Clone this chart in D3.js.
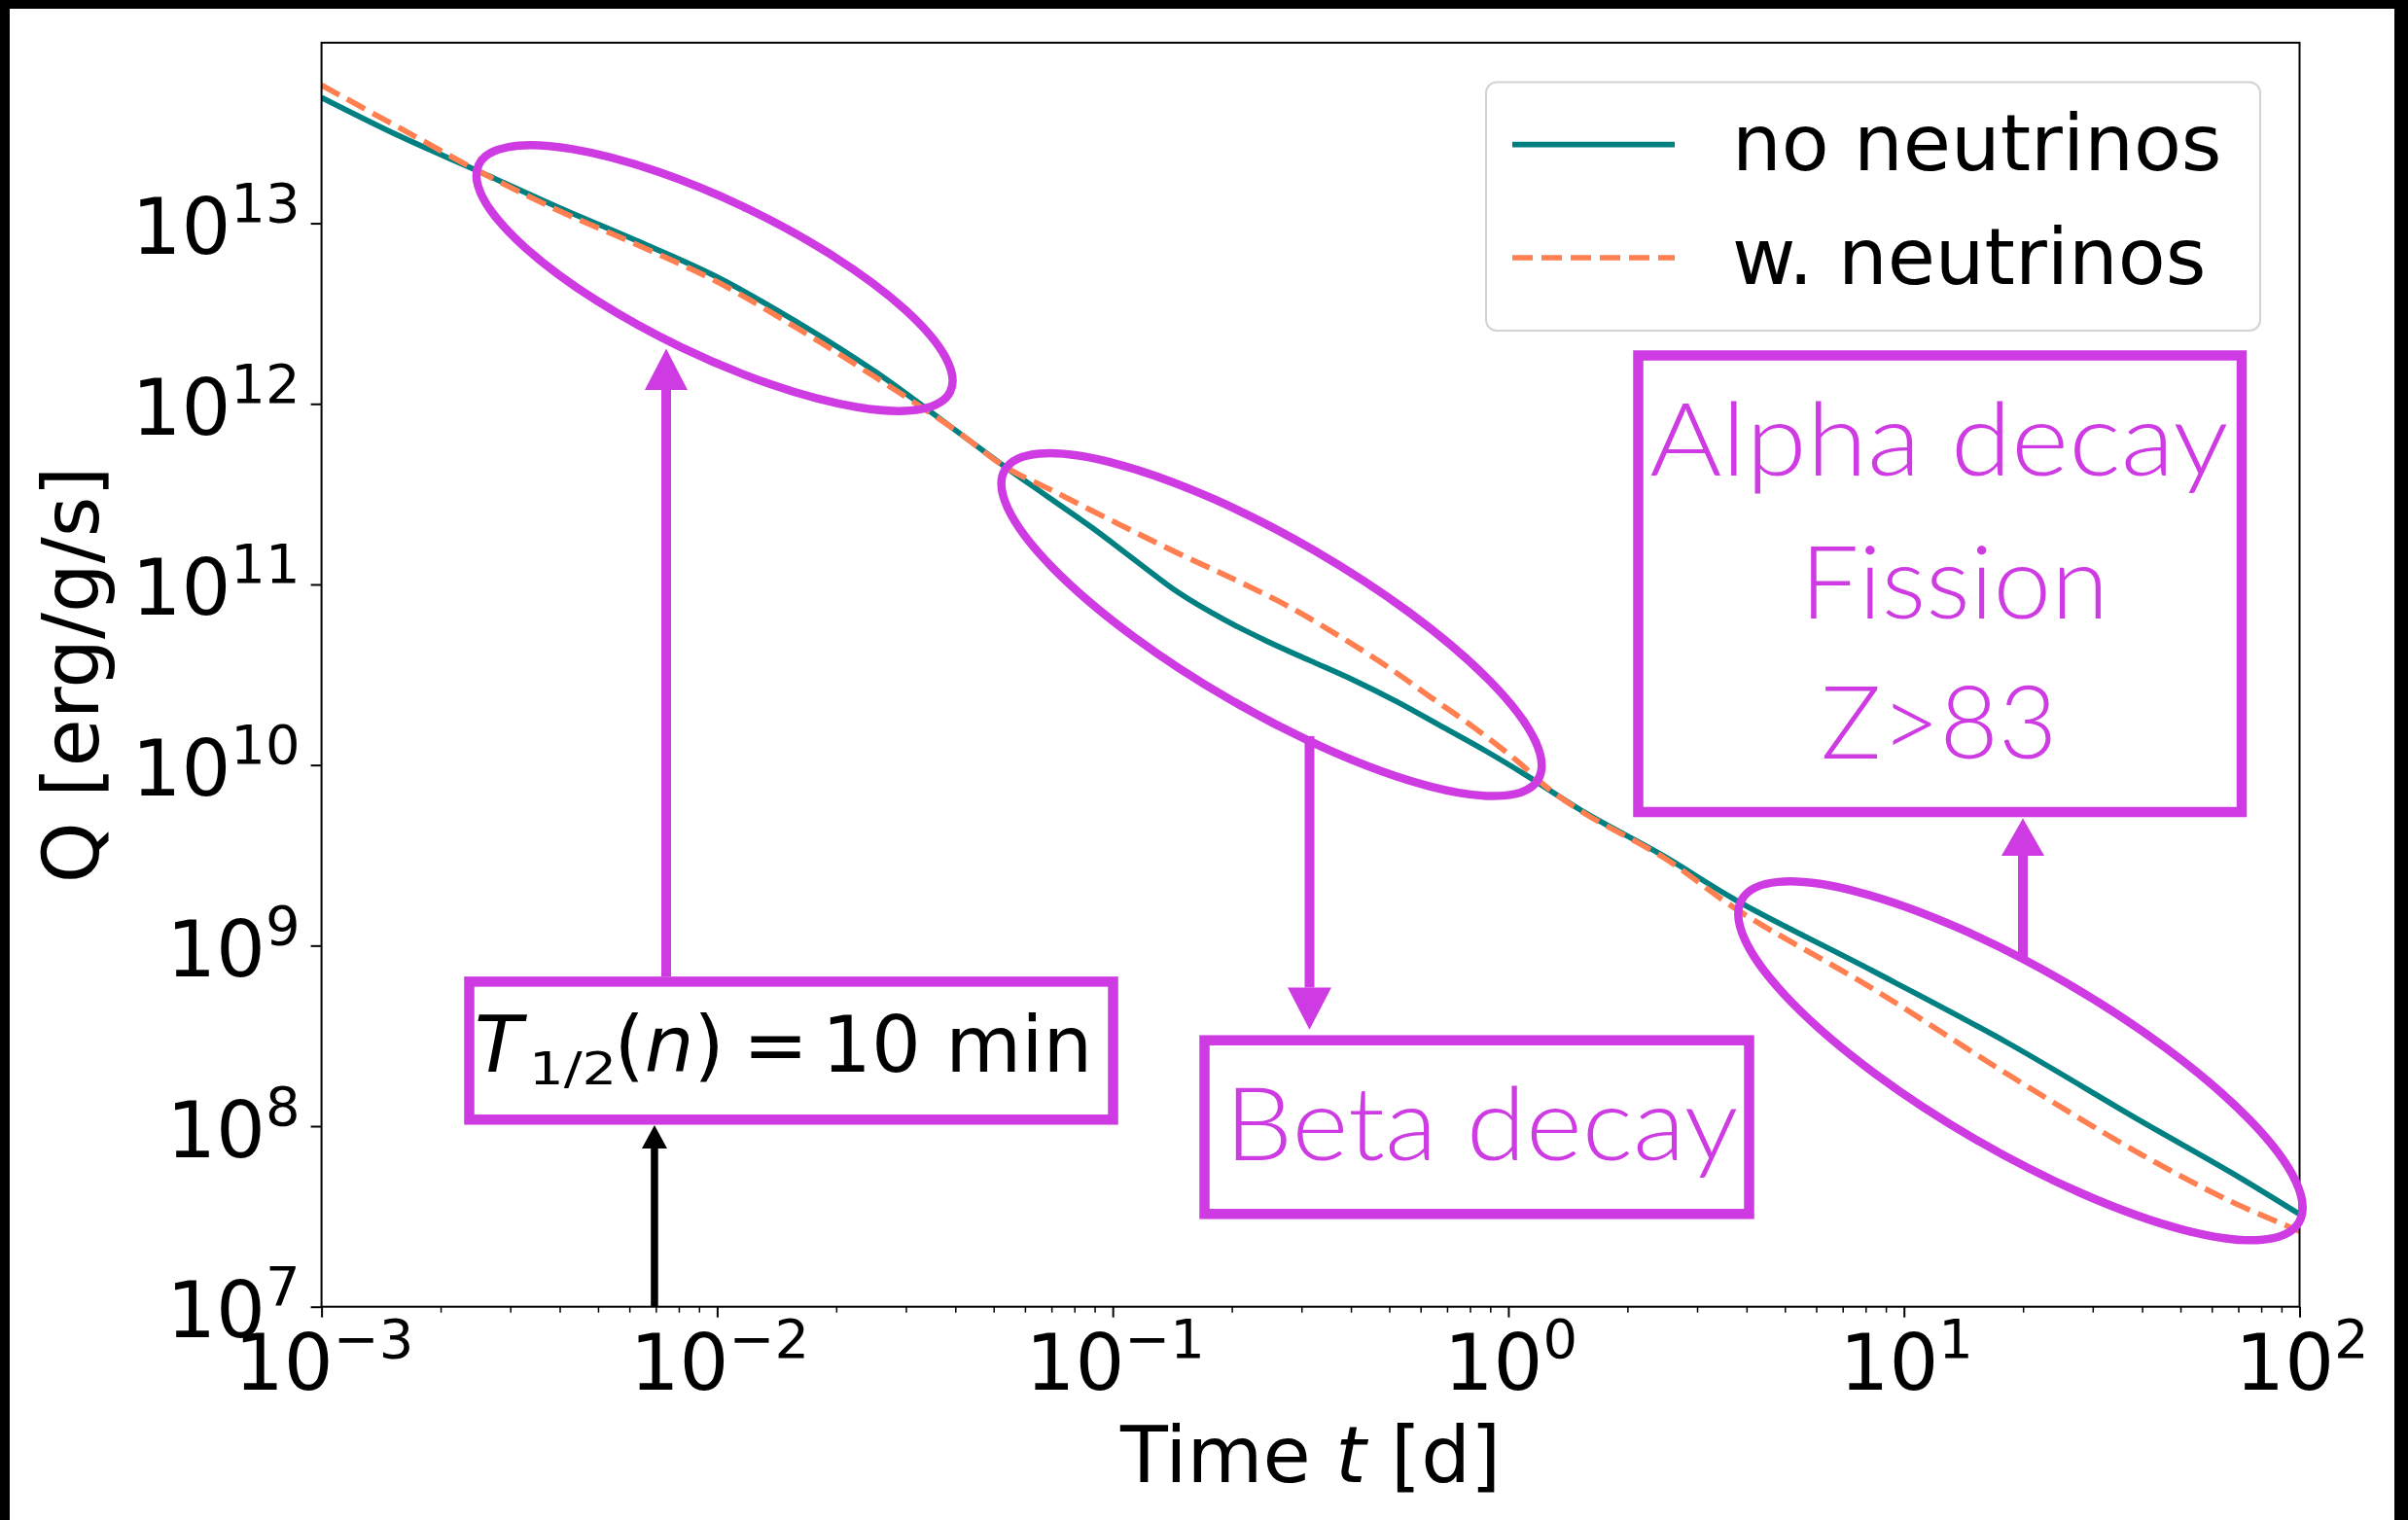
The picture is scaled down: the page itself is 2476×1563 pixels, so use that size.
<!DOCTYPE html>
<html>
<head>
<meta charset="utf-8">
<script src="https://cdn.jsdelivr.net/npm/d3@7"></script>
<style>
  html, body { margin: 0; padding: 0; background: #000; }
  svg { display: block; }
</style>
</head>
<body>
<svg id="chart" width="2476" height="1563"></svg>
<script>
// ---- data: specific heating rate Q(t) of the ejecta ----
// time since merger [days]
const timeNoNu = [1.00e-3, 1.58e-3, 2.51e-3, 3.99e-3, 6.32e-3, 1.00e-2, 1.60e-2, 2.53e-2, 3.93e-2, 5.36e-2,
                  6.90e-2, 8.87e-2, 0.114, 0.147, 0.190, 0.244, 0.314, 0.405, 0.521, 0.670,
                  0.863, 1.11, 1.58, 2.47, 3.82, 8.34, 18.2, 39.6, 66.7, 100];
// heating rate without neutrino losses [erg/g/s]
const heatNoNu = [4.97e13, 3.03e13, 1.93e13, 1.22e13, 7.94e12, 5.04e12, 2.82e12, 1.49e12, 7.36e11, 4.46e11,
                  3.03e11, 2.06e11, 1.36e11, 8.97e10, 6.43e10, 4.88e10, 3.80e10, 2.96e10, 2.25e10, 1.66e10,
                  1.22e10, 8.77e9, 5.37e9, 3.13e9, 1.75e9, 7.24e8, 2.91e8, 1.07e8, 5.58e7, 3.25e7];
const timeNu = [1.00e-3, 1.58e-3, 2.51e-3, 3.99e-3, 6.32e-3, 1.00e-2, 1.60e-2, 2.53e-2, 3.93e-2, 5.36e-2,
                6.90e-2, 0.103, 0.147, 0.204, 0.277, 0.375, 0.495, 0.637, 0.820, 1.06,
                1.26, 1.58, 2.47, 3.82, 8.34, 18.2, 39.6, 66.7, 100];
// heating rate including neutrino losses [erg/g/s]
const heatNu = [5.82e13, 3.36e13, 1.93e13, 1.17e13, 7.55e12, 4.74e12, 2.61e12, 1.39e12, 7.36e11, 4.46e11,
                3.38e11, 2.17e11, 1.48e11, 1.06e11, 7.59e10, 5.15e10, 3.50e10, 2.37e10, 1.61e10, 1.04e10,
                7.43e9, 5.30e9, 3.07e9, 1.56e9, 5.77e8, 1.95e8, 7.01e7, 3.85e7, 2.62e7];

const seriesNames = ["no neutrinos", "w. neutrinos"];
const xTickExponents = [-3, -2, -1, 0, 1, 2];
const yTickExponents = [7, 8, 9, 10, 11, 12, 13];
const neutronHalfLifeDays = 10 / 1440;   // 10 min

// highlighted regions, centred on the curves (t [d], Q [erg/g/s])
const regionCentres = [[0.00985, 4.97e12], [0.252, 5.99e10], [19.7, 2.30e8]];

// ---- layout ----
const W = 2476, H = 1563;
const plot = { left: 330.6, right: 2364.5, top: 43.9, bottom: 1343.7 };
const FONT = "'DejaVu Sans', sans-serif";
const NOTE_FONT = "Lato, 'Open Sans', sans-serif";
const MAGENTA = "#cf3be2";
const TEAL = "#008080";
const CORAL = "#ff7f50";

const svg = d3.select("#chart");

// dark surround of the figure
svg.append("rect").attr("width", W).attr("height", H).attr("fill", "#000");
svg.append("rect").attr("x", 10).attr("y", 9).attr("width", 2452).attr("height", H - 9).attr("fill", "#fff");

const x = d3.scaleLog().domain([1e-3, 1e2]).range([plot.left, plot.right]);
const y = d3.scaleLog().domain([1e7, 1e14]).range([plot.bottom, plot.top]);

// ---- axes ----
const xMajor = xTickExponents.map(e => Math.pow(10, e));
const xMinor = [];
for (let e = -3; e < 2; e++) for (let m = 2; m <= 9; m++) xMinor.push(m * Math.pow(10, e));

function powerLabel(text, exp) {
  text.append("tspan").text("10");
  text.append("tspan").attr("dy", -33).attr("font-size", 56)
      .text(exp < 0 ? "\u2212" + (-exp) : String(exp));
}

const gxMinor = svg.append("g").attr("transform", `translate(0,${plot.bottom})`)
  .call(d3.axisBottom(x).tickValues(xMinor).tickSize(6).tickFormat(() => ""));
const gx = svg.append("g").attr("transform", `translate(0,${plot.bottom})`)
  .call(d3.axisBottom(x).tickValues(xMajor).tickSize(11).tickFormat(() => ""));
const gy = svg.append("g").attr("transform", `translate(${plot.left},0)`)
  .call(d3.axisLeft(y).tickValues(yTickExponents.map(e => Math.pow(10, e))).tickSize(11).tickFormat(() => ""));

[gxMinor, gx, gy].forEach(g => {
  g.select(".domain").remove();
  g.selectAll(".tick text").remove();
  g.attr("font-family", null).attr("font-size", null);
});
gxMinor.selectAll(".tick line").attr("stroke", "#000").attr("stroke-width", 1.5);
gx.selectAll(".tick line").attr("stroke", "#000").attr("stroke-width", 2);
gy.selectAll(".tick line").attr("stroke", "#000").attr("stroke-width", 2);

gx.selectAll(".tick").append("text")
  .attr("x", 2).attr("y", 1429 - plot.bottom)
  .attr("text-anchor", "middle").attr("font-family", FONT).attr("font-size", 80).attr("fill", "#000")
  .each(function (d) { powerLabel(d3.select(this), Math.round(Math.log10(d))); });

gy.selectAll(".tick").append("text")
  .attr("x", -22).attr("y", 31)
  .attr("text-anchor", "end").attr("font-family", FONT).attr("font-size", 80).attr("fill", "#000")
  .each(function (d) { powerLabel(d3.select(this), Math.round(Math.log10(d))); });

// axis titles
const xTitle = svg.append("text")
  .attr("x", (plot.left + plot.right) / 2).attr("y", 1523.5)
  .attr("text-anchor", "middle").attr("font-family", FONT).attr("font-size", 80).attr("fill", "#000");
xTitle.append("tspan").text("Time ");
xTitle.append("tspan").attr("font-style", "italic").text("t");
xTitle.append("tspan").text(" [d]");

svg.append("text")
  .attr("transform", `translate(101,${(plot.top + plot.bottom) / 2}) rotate(-90)`)
  .attr("text-anchor", "middle").attr("font-family", FONT).attr("font-size", 80).attr("fill", "#000")
  .text("Q [erg/g/s]");

// ---- curves ----
svg.append("clipPath").attr("id", "plot-clip")
  .append("rect").attr("x", plot.left).attr("y", plot.top)
  .attr("width", plot.right - plot.left).attr("height", plot.bottom - plot.top);

const line = d3.line().x(d => x(d[0])).y(d => y(d[1])).curve(d3.curveCatmullRom.alpha(0.5));
const series = [
  { name: seriesNames[0], pts: d3.zip(timeNoNu, heatNoNu), color: TEAL, dash: null },
  { name: seriesNames[1], pts: d3.zip(timeNu, heatNu), color: CORAL, dash: "21,9" }
];

const curves = svg.append("g").attr("clip-path", "url(#plot-clip)");
curves.selectAll("path").data(series).join("path")
  .attr("d", d => line(d.pts))
  .attr("fill", "none")
  .attr("stroke", d => d.color)
  .attr("stroke-width", 5.7)
  .attr("stroke-dasharray", d => d.dash);

// plot frame
svg.append("rect")
  .attr("x", plot.left).attr("y", plot.top)
  .attr("width", plot.right - plot.left).attr("height", plot.bottom - plot.top)
  .attr("fill", "none").attr("stroke", "#000").attr("stroke-width", 2);

// ---- legend ----
const legend = svg.append("g");
legend.append("rect")
  .attr("x", 1528).attr("y", 84.5).attr("width", 796).attr("height", 255.5)
  .attr("rx", 11).attr("ry", 11)
  .attr("fill", "#fff").attr("fill-opacity", 0.8)
  .attr("stroke", "#d3d3d3").attr("stroke-width", 2);
const legendRows = legend.selectAll("g.row").data(series).join("g")
  .attr("class", "row")
  .attr("transform", (d, i) => `translate(0,${i === 0 ? 148.7 : 265})`);
legendRows.append("line")
  .attr("x1", 1555).attr("x2", 1722)
  .attr("stroke", d => d.color).attr("stroke-width", 5.7)
  .attr("stroke-dasharray", d => d.dash);
legendRows.append("text")
  .attr("x", 1781).attr("y", 26.5)
  .attr("font-family", FONT).attr("font-size", 80).attr("fill", "#000")
  .text(d => d.name);

// ---- annotations ----
const notes = svg.append("g");

// highlighted regions
const regionShapes = [
  { rx: 269, ry: 79, angle: 25.7 },
  { rx: 317, ry: 88, angle: 30.1 },
  { rx: 331, ry: 93, angle: 30.1 }
];
notes.selectAll("ellipse").data(regionShapes).join("ellipse")
  .attr("cx", (d, i) => x(regionCentres[i][0]))
  .attr("cy", (d, i) => y(regionCentres[i][1]))
  .attr("rx", d => d.rx).attr("ry", d => d.ry)
  .attr("transform", (d, i) => `rotate(${d.angle},${x(regionCentres[i][0])},${y(regionCentres[i][1])})`)
  .attr("fill", "none").attr("stroke", MAGENTA).attr("stroke-width", 8.5);

// label boxes
const boxes = [
  { x0: 482.5, y0: 1009.4, x1: 1144.5, y1: 1151.3 },
  { x0: 1238.5, y0: 1069.7, x1: 1798.5, y1: 1248.3 },
  { x0: 1684.5, y0: 365.5, x1: 2305, y1: 835 }
];
notes.selectAll("rect.box").data(boxes).join("rect")
  .attr("class", "box")
  .attr("x", d => d.x0).attr("y", d => d.y0)
  .attr("width", d => d.x1 - d.x0).attr("height", d => d.y1 - d.y0)
  .attr("fill", "#fff").attr("stroke", MAGENTA).attr("stroke-width", 10.5);

// arrows: vertical shaft plus triangular head
function arrow(g, xPos, yFrom, yBase, yTip, width, halfHead, color) {
  g.append("line").attr("x1", xPos).attr("x2", xPos).attr("y1", yFrom).attr("y2", yBase)
    .attr("stroke", color).attr("stroke-width", width);
  g.append("path")
    .attr("d", `M${xPos - halfHead},${yBase}L${xPos + halfHead},${yBase}L${xPos},${yTip}Z`)
    .attr("fill", color);
}
arrow(notes, 685, 1004, 401, 358.4, 10, 22, MAGENTA);
arrow(notes, 1346.5, 757, 1015.4, 1058.7, 10, 22.5, MAGENTA);
arrow(notes, 2080, 987, 880, 841.4, 10, 22, MAGENTA);
arrow(notes, x(neutronHalfLifeDays), plot.bottom, 1181, 1157, 7.5, 13, "#000");

// half-life label
const hl = notes.append("text")
  .attr("x", 488).attr("y", 1101.6)
  .attr("font-family", FONT).attr("font-size", 80).attr("fill", "#000");
hl.append("tspan").attr("font-style", "italic").text("T");
hl.append("tspan").attr("x", 631.6).text("(");
hl.append("tspan").attr("font-style", "italic").text("n");
hl.append("tspan").text(")");
hl.append("tspan").attr("x", 764).text("=");
hl.append("tspan").attr("x", 845).text("10 min");
notes.append("text")
  .attr("transform", "translate(544,1115) scale(1.22,1)")
  .attr("font-family", FONT).attr("font-size", 46).attr("fill", "#000")
  .text("1/2");

// process labels
const processLabels = [
  { text: "Alpha decay", cx: 1993.8, y: 489.2, len: 595 },
  { text: "Fission", cx: 2009.5, y: 635.5, len: 317 },
  { text: "Z>83", cx: 1993.7, y: 780.2, len: 243 },
  { text: "Beta decay", cx: 1523.3, y: 1192.6, len: 528 }
];
notes.selectAll("text.proc").data(processLabels).join("text")
  .attr("class", "proc")
  .attr("x", d => d.cx).attr("y", d => d.y)
  .attr("text-anchor", "middle")
  .attr("font-family", NOTE_FONT).attr("font-weight", 300).attr("font-size", 105)
  .attr("fill", MAGENTA)
  .attr("textLength", d => d.len).attr("lengthAdjust", "spacingAndGlyphs")
  .text(d => d.text);
</script>
</body>
</html>
